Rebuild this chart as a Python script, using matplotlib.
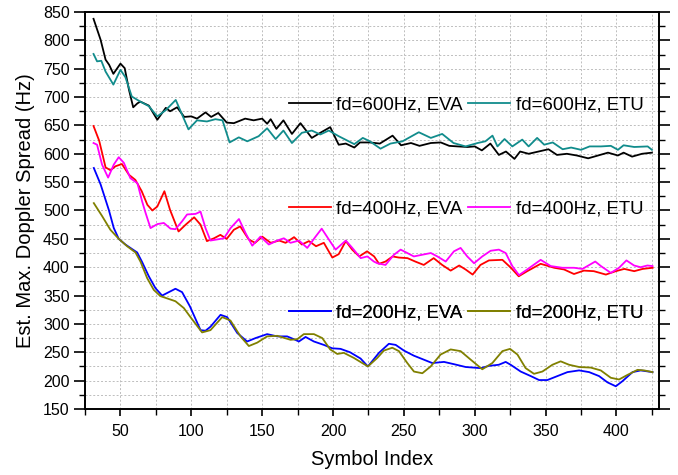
import matplotlib.pyplot as plt
from matplotlib.ticker import MultipleLocator

# --- DATA ---
X_600_EVA = [31, 36, 39.5, 42, 45, 50, 53, 56, 59, 62, 64, 70, 76, 82, 85, 90, 95, 100,
             104, 110, 114, 119, 125, 130, 138, 144, 150, 153.5, 156, 160, 165, 171, 177,
             185, 191, 198, 204, 209, 215, 219, 226, 233, 242, 248, 255, 261, 269, 276,
             282, 288, 295, 300, 305, 311, 317, 322, 328, 332, 338, 345, 352, 358, 365,
             372, 380, 387, 394, 401, 405, 411, 418, 425]
Y_600_EVA = [838, 801, 766, 757, 741, 759, 751, 713, 682, 689, 692, 685, 660, 681, 675,
             682, 665, 666, 662, 673, 665, 672, 655, 654, 662, 659, 662, 653, 661, 644,
             659, 635, 654, 628, 637, 647, 616, 618, 611, 620, 620, 618, 632, 615, 619,
             614, 619, 620, 614, 613, 612, 613, 606, 618, 598, 604, 591, 604, 600, 604,
             608, 598, 600, 597, 592, 597, 602, 597, 602, 595, 600, 602]

X_600_ETU = [31, 33.5, 36.5, 39.5, 45, 50, 53.5, 58, 64, 70, 76, 82, 89, 93.5, 98, 104,
             111, 117, 122, 127, 133.5, 139.5, 147.5, 153.5, 159.5, 165, 171, 178, 185,
             191, 197, 204, 215, 221, 226, 233.5, 240.5, 249, 260.5, 269, 277, 285, 293.5,
             302, 307.5, 312.5, 316, 321, 326.5, 333.5, 338, 344, 349, 355, 362, 368, 375,
             381, 389, 396, 401, 405, 412.5, 422, 425]
Y_600_ETU = [776, 763, 764, 745, 722, 748, 735, 701, 692, 684, 666, 677, 695, 669, 643,
             659, 657, 661, 659, 620, 629, 622, 631, 645, 626, 641, 619, 637, 641, 634,
             641, 631, 617, 628, 622, 609, 618, 622, 638, 628, 635, 619, 613, 619, 622,
             632, 613, 626, 613, 625, 613, 628, 616, 620, 608, 611, 607, 613, 613, 614,
             607, 615, 612, 613, 607]

X_400_EVA = [31, 35, 39.5, 43, 46.5, 51, 56, 60.5, 65, 69, 72.5, 76, 81, 85, 91, 96, 102,
             106.5, 111, 116, 120.5, 125, 130, 134.5, 140.5, 145, 150, 156, 162, 166.5,
             172.5, 178, 183, 188, 193.5, 199.5, 204, 209, 213.5, 218.5, 224, 229, 232.5,
             237, 242, 246.5, 252.5, 258, 264, 271, 277, 283, 289, 293.5, 298.5, 304, 310,
             319.5, 325.5, 331, 337, 346.5, 356, 363, 370, 377, 384, 392.5, 399.5, 405.5,
             412.5, 418.5, 425.5]
Y_400_EVA = [649, 623, 576, 571, 578, 582, 563, 554, 534, 510, 500, 507, 534, 501, 463,
             475, 488, 475, 446, 451, 457, 450, 466, 472, 449, 443, 454, 443, 447, 443,
             453, 440, 446, 437, 443, 417, 423, 446, 431, 419, 428, 419, 406, 410, 419,
             417, 416, 410, 404, 416, 404, 394, 403, 396, 387, 404, 412, 413, 399, 384,
             393, 406, 399, 396, 388, 394, 393, 387, 393, 397, 393, 397, 399]

X_400_ETU = [31, 33.5, 37, 41.3, 45.3, 48.8, 52.4, 57, 62, 65.3, 67.7, 71.2, 76, 80.6,
             85.3, 88.8, 93.5, 97, 103, 106.5, 110, 113.5, 118.3, 123, 127.7, 133.6, 138.3,
             143, 148.8, 154.7, 160.6, 165.3, 170, 176, 181.8, 187.7, 192, 197, 201.8, 209,
             213.6, 219.5, 224.2, 228.8, 231.2, 237, 243, 247.7, 252.4, 257, 263, 269,
             273.6, 279.5, 285.3, 290, 294.7, 299.5, 305.3, 311.2, 317, 321.8, 326.5, 331.2,
             337, 346.5, 353.6, 361.8, 370, 376, 385, 389, 396, 401.8, 407, 412.4, 417,
             421.8, 425.4]
Y_400_ETU = [619, 616, 581, 558, 581, 594, 584, 557, 548, 516, 496, 469, 476, 478, 468,
             467, 481, 493, 494, 498, 469, 447, 449, 451, 469, 485, 460, 438, 454, 440,
             447, 451, 443, 447, 434, 454, 468, 449, 431, 447, 434, 416, 419, 410, 407,
             404, 422, 431, 425, 419, 422, 425, 419, 410, 428, 434, 419, 407, 419, 429,
             431, 425, 402, 386, 396, 413, 402, 399, 399, 397, 410, 402, 390, 399, 412,
             403, 400, 403, 402]

X_200_EVA = [31.2, 36, 41.8, 45.3, 48.8, 53.5, 58.2, 61.8, 65.3, 70, 74.7, 79.4, 84.1,
             88.8, 93.5, 99, 106.5, 110, 113.5, 120.6, 125.3, 132.4, 139.4, 145.3, 153.5,
             160.6, 167.6, 172.4, 175.9, 180.6, 186.5, 193.5, 199.4, 205.3, 212, 219.4,
             224.6, 232.4, 239.4, 244.2, 250, 257, 264, 270, 278.3, 285.3, 293.6, 304.2,
             310, 317, 321.8, 325.3, 332.4, 339.5, 345.4, 351.2, 358.3, 365.4, 373.6, 380.7,
             387.7, 393.6, 399.5, 404.2, 411.3, 417.1, 425.4]
Y_200_EVA = [575, 546, 501, 469, 450, 440, 432, 426, 409, 384, 363, 350, 356, 362, 356,
             331, 289, 288, 295, 316, 312, 284, 269, 275, 282, 278, 278, 273, 269, 277,
             269, 263, 257, 256, 250, 239, 225, 249, 265, 263, 253, 244, 237, 231, 233,
             229, 224, 222, 226, 228, 233, 228, 216, 208, 201, 201, 208, 215, 218, 215,
             208, 197, 190, 199, 215, 218, 215]

X_200_ETU = [31.2, 37.1, 42.9, 48.8, 54.7, 60.6, 64.1, 68.8, 73.5, 78.2, 84.1, 88.8, 94.7,
             99.4, 107.6, 113.5, 121.8, 127.6, 134.7, 140.6, 146.5, 153.5, 160.6, 170,
             174.7, 179.4, 186.5, 192.4, 198, 203, 207.6, 214.7, 224.6, 231.2, 235.9,
             241.8, 246.5, 252.4, 257.1, 263, 268.9, 275.9, 283, 290, 297.1, 305.3, 312.4,
             319.5, 324.9, 330.1, 335.9, 341.8, 347.7, 354.8, 360.6, 366.5, 373.6, 381.8,
             388.9, 396, 401.8, 407.7, 414.8, 419.5, 425.4]
Y_200_ETU = [513, 490, 466, 450, 437, 426, 410, 381, 360, 349, 344, 340, 328, 312, 285,
             289, 312, 306, 278, 261, 267, 278, 279, 272, 273, 282, 282, 275, 255, 247,
             249, 240, 225, 240, 253, 258, 252, 231, 216, 213, 225, 246, 255, 252, 237,
             220, 231, 252, 256, 246, 222, 212, 216, 228, 234, 228, 224, 223, 218, 205,
             202, 210, 219, 218, 215]

SERIES = [
    ("fd=600Hz, EVA", X_600_EVA, Y_600_EVA, "#000000"),
    ("fd=600Hz, ETU", X_600_ETU, Y_600_ETU, "#118c8c"),
    ("fd=400Hz, EVA", X_400_EVA, Y_400_EVA, "#ff0000"),
    ("fd=400Hz, ETU", X_400_ETU, Y_400_ETU, "#ff00ff"),
    ("fd=200Hz, EVA", X_200_EVA, Y_200_EVA, "#0000ff"),
    ("fd=200Hz, ETU", X_200_ETU, Y_200_ETU, "#808000"),
]

# legend row anchors in axes coordinates (one legend per Doppler value)
LEGEND_ROWS = [0.766, 0.504, 0.242]


def main() -> None:
    plt.rcParams["font.family"] = ["Liberation Sans", "DejaVu Sans"]

    fig = plt.figure(figsize=(6.78, 4.75), dpi=100)
    ax = fig.add_axes([0.1254, 0.139, 0.8466, 0.8357])

    lines = []
    for label, xs, ys, color in SERIES:
        (ln,) = ax.plot(xs, ys, color=color, linewidth=1.3, label=label)
        lines.append(ln)

    ax.set_xlim(25, 430)
    ax.set_ylim(150, 850)
    ax.xaxis.set_major_locator(MultipleLocator(50))
    ax.xaxis.set_minor_locator(MultipleLocator(25))
    ax.yaxis.set_major_locator(MultipleLocator(50))
    ax.yaxis.set_minor_locator(MultipleLocator(25))

    ax.grid(which="both", color="#bdbdbd", linestyle=(0, (2, 2)), linewidth=0.7)
    ax.set_axisbelow(True)

    for side in ax.spines.values():
        side.set_linewidth(1.4)

    ax.tick_params(axis="both", which="major", direction="out", labelsize=11.5,
                   width=1.2, right=True)
    ax.tick_params(axis="y", which="major", length=8, pad=3)
    ax.tick_params(axis="y", which="minor", length=4.5, width=1.0, right=True)
    ax.tick_params(axis="x", which="major", length=5, pad=6)
    ax.tick_params(axis="x", which="minor", length=4, width=1.0)
    ax.tick_params(axis="y", which="both", labelright=False)

    ax.set_xlabel("Symbol Index", fontsize=14.5, labelpad=8)
    ax.set_ylabel("Est. Max. Doppler Spread (Hz)", fontsize=14.5, labelpad=6)

    for i, y_anchor in enumerate(LEGEND_ROWS):
        leg = ax.legend(
            handles=lines[2 * i:2 * i + 2],
            loc="center left",
            bbox_to_anchor=(0.355, y_anchor),
            ncol=2,
            frameon=False,
            fontsize=13.4,
            handlelength=2.25,
            handletextpad=0.3,
            columnspacing=0.3,
            borderpad=0,
            borderaxespad=0,
        )
        ax.add_artist(leg)

    fig.savefig("out.png", dpi=100)


if __name__ == "__main__":
    main()
